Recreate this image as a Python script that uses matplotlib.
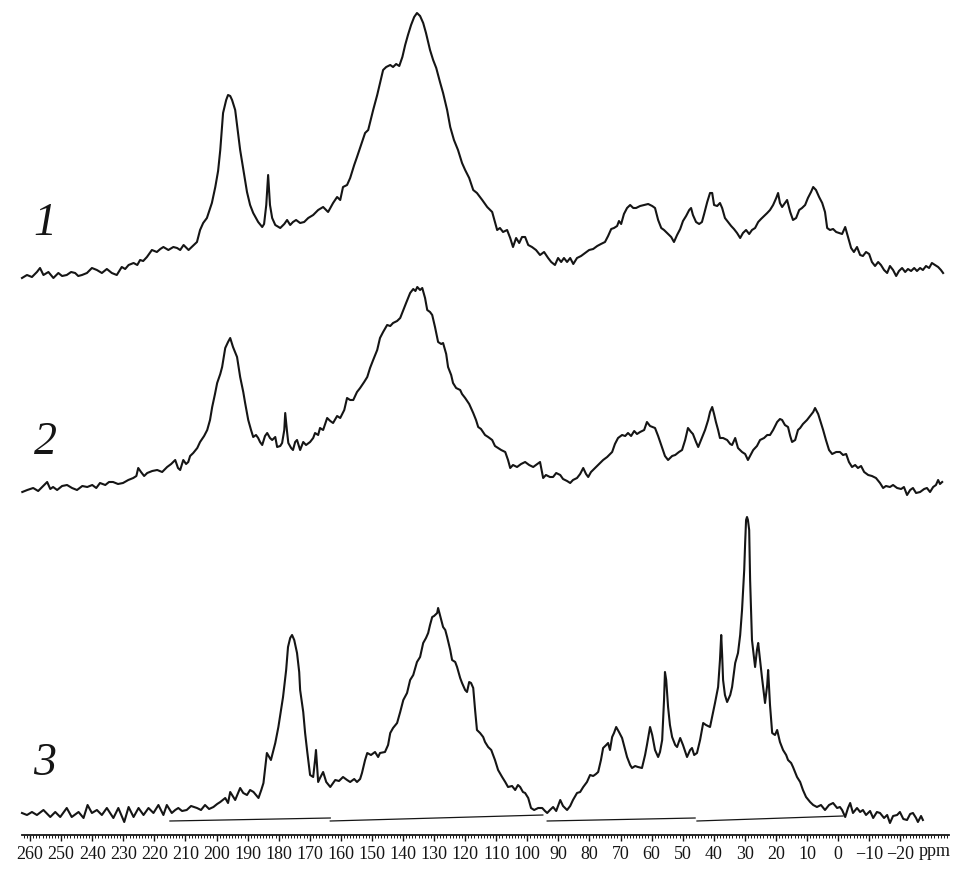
import matplotlib
matplotlib.use("Agg")
import matplotlib.pyplot as plt
from matplotlib.ticker import MultipleLocator

# ---------------- data (ppm, intensity above each trace's own baseline) ----------------
spec1_ppm = [262.6, 261.0, 259.4, 257.8, 256.8, 255.7, 254.1, 252.5, 250.9, 249.7, 248.2, 246.8, 245.5, 244.5,
             243.3, 241.7, 240.1, 238.5, 236.9, 235.3, 233.7, 232.1, 230.5, 229.4, 228.3, 226.7, 225.5, 224.6,
             223.6, 222.4, 220.8, 219.2, 218.1, 217.1, 215.5, 213.9, 212.7, 211.7, 210.6, 209.0, 208.0, 206.3,
             205.3, 204.3, 203.1, 201.5, 200.4, 199.5, 198.8, 197.9, 196.9, 196.3, 195.6, 195.0, 194.0, 193.0,
             192.4, 191.1, 190.2, 189.2, 188.2, 186.6, 185.3, 184.7, 184.0, 183.4, 182.8, 182.1, 181.1, 179.5,
             178.2, 177.3, 176.3, 175.4, 174.4, 173.1, 171.8, 170.5, 168.9, 167.3, 165.7, 164.1, 162.5, 161.2,
             160.2, 159.3, 158.0, 157.0, 155.7, 154.8, 153.5, 152.2, 151.2, 149.6, 148.3, 147.4, 146.4, 145.4,
             144.1, 143.2, 142.2, 141.2, 140.2, 139.3, 138.4, 137.4, 136.4, 135.5, 134.5, 133.5, 132.6, 131.3,
             130.3, 129.3, 128.1, 127.1, 125.8, 124.8, 123.6, 122.3, 121.0, 120.0, 118.7, 117.4, 116.2, 114.5,
             112.9, 111.3, 110.4, 109.7, 108.8, 107.8, 106.5, 105.5, 104.6, 103.6, 102.6, 101.7, 100.7, 99.7,
             98.5, 97.2, 95.9, 94.6, 93.3, 92.3, 91.1, 90.1, 89.1, 88.2, 87.2, 86.2, 85.2, 84.0, 82.7, 81.4,
             80.1, 78.8, 77.5, 76.3, 75.0, 74.0, 73.0, 72.1, 71.1, 70.5, 69.8, 68.9, 67.9, 66.9, 65.9, 65.0,
             63.7, 62.4, 61.1, 59.8, 58.9, 57.9, 56.9, 56.0, 54.7, 53.7, 52.8, 51.8, 50.8, 49.9, 48.9, 47.9,
             47.3, 46.7, 45.7, 44.7, 43.8, 43.1, 42.1, 41.2, 40.5, 39.9, 38.9, 38.0, 37.3, 36.4, 35.4, 34.4,
             33.5, 32.5, 31.5, 30.6, 29.6, 28.6, 27.7, 26.7, 25.7, 24.8, 23.8, 22.8, 21.9, 20.9, 19.9, 19.3,
             18.7, 18.0, 17.1, 16.4, 15.4, 14.5, 13.5, 12.5, 11.6, 10.6, 9.7, 8.7, 8.0, 7.1, 6.1, 5.1, 4.2,
             3.5, 2.6, 1.6, 0.6, -0.3, -1.3, -2.3, -3.2, -4.2, -5.1, -6.1, -7.1, -8.0, -9.0, -10.0, -10.9,
             -11.9, -12.9, -13.8, -14.8, -15.8, -16.7, -17.7, -18.7, -19.6, -20.6, -21.6, -22.5, -23.5, -24.5,
             -25.4, -26.4, -27.3, -28.3, -29.3, -30.2, -31.2, -32.2, -33.1, -33.8]
spec1_int = [-2, 1, -1, 4, 8, 1, 4, -2, 3, 0, 1, 4, 3, 0,
             1, 3, 8, 6, 3, 7, 3, 1, 9, 7, 11, 13, 11, 16,
             15, 19, 26, 24, 27, 29, 26, 29, 28, 26, 31, 26, 29, 34,
             46, 53, 58, 73, 89, 105, 126, 163, 176, 181, 180, 176, 166, 141,
             126, 101, 84, 71, 63, 54, 49, 52, 71, 101, 71, 58, 51, 48,
             52, 56, 51, 54, 56, 53, 54, 58, 61, 66, 69, 64, 73, 79,
             76, 89, 91, 98, 111, 119, 131, 143, 146, 166, 181, 193, 206, 209,
             211, 209, 212, 210, 219, 231, 241, 251, 259, 263, 260, 253, 243, 226,
             216, 208, 194, 183, 166, 149, 136, 126, 113, 106, 98, 86, 83, 76,
             69, 64, 54, 46, 48, 44, 46, 38, 29, 38, 33, 39, 39, 31,
             29, 26, 21, 24, 18, 14, 11, 18, 14, 18, 14, 18, 12, 18, 20, 23,
             26, 27, 30, 32, 34, 40, 47, 48, 50, 55, 52, 62, 68, 71, 68, 68,
             70, 71, 72, 70, 68, 56, 48, 46, 42, 39, 34, 41, 47, 55, 60, 66,
             68, 61, 54, 52, 54, 62, 74, 83, 83, 71, 70, 73, 68, 58, 54, 50,
             47, 43, 38, 43, 46, 42, 46, 48, 54, 57, 60, 63, 66, 71, 78, 83,
             73, 69, 73, 76, 64, 56, 58, 66, 68, 71, 78, 84, 89, 86, 79, 73, 64,
             48, 46, 47, 44, 43, 42, 49, 39, 28, 24, 29, 21, 20, 24, 22, 14,
             10, 14, 11, 6, 3, 10, 6, 0, 5, 8, 4, 7, 5, 8,
             5, 8, 6, 10, 8, 13, 11, 9, 6, 3]

spec2_ppm = [262.5, 260.9, 259.0, 257.4, 255.8, 254.5, 253.5, 252.6, 251.3, 249.7, 248.1, 246.5, 244.9, 243.2,
             241.6, 240.0, 238.7, 237.5, 235.8, 234.6, 233.3, 231.7, 230.1, 228.4, 226.8, 225.8, 225.2, 224.3,
             223.3, 222.3, 220.7, 219.1, 217.5, 215.9, 214.6, 213.3, 212.4, 211.7, 210.7, 209.8, 209.1, 208.5,
             207.5, 206.2, 205.3, 204.0, 203.0, 202.1, 201.4, 200.5, 199.8, 198.8, 198.2, 197.2, 196.3, 195.6,
             194.7, 193.4, 192.4, 191.4, 190.8, 189.8, 188.9, 188.2, 187.3, 186.6, 186.0, 185.3, 184.4, 183.7,
             182.8, 182.1, 181.1, 180.5, 179.5, 178.9, 178.2, 177.9, 177.3, 176.9, 176.0, 175.4, 174.7, 174.1,
             173.1, 172.1, 171.2, 169.9, 168.9, 168.3, 167.3, 166.7, 165.7, 164.4, 163.4, 162.5, 161.2, 160.2,
             158.9, 158.0, 157.0, 156.0, 154.8, 153.8, 152.5, 151.5, 150.6, 149.6, 148.3, 147.4, 146.4, 145.1,
             144.1, 143.2, 141.9, 140.9, 139.9, 139.0, 137.7, 136.7, 136.0, 135.4, 134.5, 133.8, 132.9, 132.2,
             131.3, 130.6, 129.7, 128.7, 127.7, 127.1, 126.1, 125.5, 124.5, 123.9, 122.9, 121.6, 121.0, 120.0,
             118.7, 117.4, 116.5, 115.8, 114.9, 113.6, 112.6, 111.3, 110.4, 109.4, 108.4, 107.1, 106.2, 105.5,
             104.6, 103.3, 102.0, 100.7, 99.4, 98.1, 96.8, 95.9, 94.9, 94.0, 92.7, 91.7, 90.7, 89.4, 88.5,
             87.2, 86.2, 85.3, 84.0, 83.0, 82.0, 81.1, 80.4, 79.5, 78.2, 76.9, 75.6, 74.3, 72.7, 71.8, 70.8,
             69.5, 68.5, 67.6, 66.6, 65.6, 64.7, 63.7, 62.4, 61.5, 60.5, 58.9, 57.9, 56.6, 55.7, 54.7, 53.4,
             52.4, 51.2, 50.2, 49.2, 48.3, 47.3, 46.7, 45.7, 45.0, 44.1, 42.8, 41.8, 41.2, 40.5, 39.9, 39.3,
             38.6, 38.0, 37.0, 35.7, 34.7, 34.1, 33.1, 32.2, 30.9, 29.9, 29.0, 28.0, 27.3, 26.1, 25.1, 23.8,
             22.8, 21.9, 20.9, 19.6, 18.7, 18.0, 17.1, 16.1, 15.4, 14.8, 13.8, 12.9, 12.2, 11.3, 10.0, 9.0,
             8.0, 7.4, 6.4, 5.8, 4.8, 3.9, 2.9, 1.9, 0.6, -0.6, -1.6, -2.6, -3.5, -4.5, -5.5, -6.4, -7.4,
             -8.4, -9.7, -10.9, -12.2, -13.5, -14.5, -15.4, -16.7, -17.7, -19.0, -20.3, -21.2, -22.2, -23.2,
             -24.1, -25.1, -26.4, -27.7, -28.6, -29.6, -30.6, -31.5, -32.2, -32.8, -33.5]
spec2_int = [0, 2, 4, 1, 6, 10, 3, 5, 2, 6, 7, 4, 2, 6,
             5, 7, 4, 9, 7, 10, 10, 8, 9, 12, 14, 16, 24, 20,
             16, 19, 21, 22, 20, 25, 28, 32, 24, 22, 32, 28, 30, 36,
             39, 44, 50, 56, 62, 72, 85, 98, 109, 118, 125, 144, 150, 154,
             145, 135, 115, 100, 89, 72, 62, 55, 57, 54, 50, 47, 56, 59,
             54, 52, 55, 45, 46, 49, 62, 79, 60, 49, 44, 42, 50, 52,
             42, 50, 47, 50, 54, 59, 57, 64, 62, 74, 71, 69, 76, 74,
             82, 94, 92, 92, 100, 104, 110, 115, 124, 132, 142, 154, 160, 167,
             166, 169, 171, 174, 182, 189, 199, 203, 201, 205, 202, 204, 194, 182,
             180, 177, 165, 150, 148, 149, 138, 125, 117, 109, 104, 102, 98, 94,
             88, 79, 72, 65, 63, 57, 55, 52, 46, 44, 42, 40, 32, 24,
             27, 25, 28, 30, 27, 25, 28, 30, 14, 17, 15, 15, 19, 17, 13,
             11, 9, 12, 14, 18, 24, 18, 15, 20, 24, 28, 32, 35, 40, 48, 54,
             57, 56, 59, 56, 61, 58, 60, 62, 70, 66, 64, 56, 44, 36, 32, 36,
             37, 40, 42, 52, 64, 60, 58, 50, 45, 52, 62, 72, 80, 85, 78, 70,
             62, 54, 54, 52, 48, 47, 54, 44, 40, 38, 32, 38, 42, 46, 52, 54,
             57, 57, 62, 70, 73, 72, 67, 65, 56, 50, 52, 62, 64, 68, 72, 76,
             80, 84, 78, 72, 62, 52, 42, 38, 40, 40, 37, 38, 30, 25, 27, 24, 26,
             20, 17, 16, 14, 9, 4, 6, 5, 7, 4, 3, 5, -3, 2,
             4, -1, 0, 3, 4, 0, 5, 7, 12, 8, 10]

spec3_ppm = [262.6, 261.0, 259.4, 257.8, 255.7, 253.5, 251.9, 250.3, 248.2, 246.6, 244.4, 242.8, 241.5, 240.1,
             238.5, 236.9, 235.3, 233.2, 231.6, 229.7, 228.3, 226.7, 225.1, 223.5, 221.9, 220.3, 218.7, 217.1,
             216.0, 214.4, 213.3, 212.3, 211.1, 209.6, 208.2, 206.3, 205.0, 203.7, 202.4, 201.0, 199.8, 198.8,
             197.2, 196.3, 195.6, 194.0, 192.4, 191.4, 190.2, 189.2, 188.1, 186.5, 185.6, 184.9, 183.8, 182.5,
             181.1, 180.1, 178.6, 177.6, 177.0, 176.3, 175.7, 175.0, 174.1, 173.4, 173.1, 172.1, 171.5, 170.8,
             169.9, 168.9, 168.3, 168.0, 167.6, 167.3, 166.7, 165.7, 164.7, 163.4, 162.5, 161.8, 160.6, 159.3,
             158.0, 157.0, 155.7, 154.8, 153.8, 153.2, 152.2, 151.5, 150.3, 149.0, 148.0, 147.4, 145.8, 144.8,
             144.1, 143.2, 141.9, 140.9, 139.9, 138.7, 137.7, 136.7, 135.5, 134.5, 133.5, 132.6, 131.9, 131.3,
             130.6, 130.0, 129.0, 128.7, 128.1, 127.1, 126.4, 125.8, 124.8, 124.2, 123.2, 122.6, 121.6, 121.0,
             120.0, 119.4, 118.7, 118.1, 117.4, 116.8, 116.2, 115.2, 114.2, 113.6, 112.6, 111.6, 110.4, 109.4,
             108.1, 107.1, 106.2, 104.9, 103.9, 103.0, 102.3, 101.4, 100.7, 99.7, 98.8, 97.8, 96.5, 95.2,
             94.3, 93.6, 92.7, 91.7, 90.7, 89.4, 88.5, 87.2, 86.2, 85.3, 84.0, 83.0, 82.0, 80.8, 79.8, 78.8,
             77.9, 77.2, 76.3, 75.6, 74.6, 74.0, 73.4, 72.7, 72.1, 71.4, 70.5, 69.5, 68.5, 67.9, 66.9, 66.3,
             65.3, 64.4, 63.1, 62.1, 61.5, 60.5, 59.8, 58.9, 57.9, 57.3, 56.6, 56.0, 55.7, 55.3, 54.7, 54.1,
             53.4, 52.4, 51.8, 50.8, 49.9, 48.6, 47.6, 47.0, 46.3, 45.4, 44.4, 43.4, 42.5, 41.2, 40.2, 39.6,
             38.6, 38.0, 37.6, 37.3, 37.0, 36.4, 35.7, 34.7, 34.1, 33.1, 32.2, 31.5, 30.9, 30.2, 29.9, 29.6,
             29.3, 29.0, 28.6, 28.3, 27.7, 26.7, 26.1, 25.7, 25.1, 24.5, 23.8, 23.5, 22.8, 22.5, 21.9, 21.2,
             20.3, 19.6, 18.7, 17.7, 16.7, 16.1, 15.1, 14.5, 13.2, 12.2, 11.3, 10.3, 9.0, 8.0, 6.8, 5.5, 4.2,
             2.9, 1.6, 0.3, -0.6, -1.3, -2.3, -3.2, -3.9, -4.8, -6.1, -7.1, -8.0, -9.0, -10.3, -11.3, -12.5,
             -13.5, -14.8, -15.8, -16.7, -17.7, -19.0, -19.9, -21.0, -22.2, -23.2, -24.1, -25.1, -25.7, -26.7,
             -27.3]
spec3_int = [2, 0, 3, 0, 5, -2, 3, -2, 7, -2, 3, -3, 10, 2,
             5, 0, 7, -3, 7, -7, 8, -2, 7, 0, 7, 2, 10, 0,
             10, 2, 5, 7, 4, 5, 9, 7, 5, 10, 6, 8, 11, 13,
             17, 12, 23, 15, 27, 22, 20, 25, 23, 17, 25, 32, 62, 55,
             72, 88, 118, 145, 168, 177, 180, 175, 162, 143, 125, 103, 82, 63,
             40, 38, 55, 65, 47, 33, 37, 43, 33, 28, 32, 35, 34, 38,
             35, 33, 36, 33, 36, 42, 55, 62, 60, 63, 58, 62, 63, 70,
             82, 87, 92, 103, 115, 122, 135, 140, 153, 158, 172, 177, 182, 190,
             198, 199, 202, 207, 200, 188, 185, 178, 165, 155, 153, 148, 137, 132,
             125, 123, 133, 132, 127, 105, 85, 82, 78, 73, 68, 65, 55, 45,
             38, 33, 28, 29, 25, 30, 28, 23, 22, 17, 7, 5, 7, 7,
             4, 2, 5, 8, 4, 15, 9, 5, 9, 15, 22, 23, 28, 33, 40, 39,
             41, 43, 55, 67, 70, 72, 65, 78, 82, 88, 83, 77, 65, 58, 50, 47,
             49, 48, 47, 60, 70, 88, 80, 65, 58, 63, 75, 115, 143, 135, 108, 90,
             78, 70, 68, 77, 70, 58, 65, 67, 60, 62, 75, 92, 90, 88, 103, 112,
             128, 155, 180, 160, 135, 120, 113, 120, 128, 152, 162, 180, 205, 245, 272, 295,
             298, 295, 285, 235, 175, 148, 165, 172, 155, 138, 120, 112, 130, 145, 110, 82,
             80, 85, 73, 65, 60, 55, 52, 48, 38, 33, 25, 18, 13, 10, 8, 10, 5,
             10, 12, 7, 8, 5, -2, 7, 12, 2, 7, 3, 5, 0, 4, -3, 3,
             2, -3, 0, -8, -1, 0, 3, -4, -5, 1, 2, -3, -7, -1,
             -5]

# integral baseline segments under trace 3 (ppm start, ppm end, level start, level end)
integral_ppm = [(215.0, 163.4), (163.4, 95.0), (93.6, 46.0), (45.4, -1.6)]
integral_int = [(-6, -3), (-6, 0), (-6, -3), (-6, -1)]

tick_values = [260, 250, 240, 230, 220, 210, 200, 190, 180, 170, 160, 150, 140, 130,
               120, 110, 100, 90, 80, 70, 60, 50, 40, 30, 20, 10, 0, -10, -20]
tick_labels = ["260", "250", "240", "230", "220", "210", "200", "190", "180", "170", "160", "150",
               "140", "130", "120", "110", "100", "90", "80", "70", "60", "50", "40", "30", "20",
               "10", "0", "\u221210", "\u221220"]
trace_labels = ["1", "2", "3"]
unit_label = "ppm"

# ---------------- drawing ----------------
plt.rcParams['font.family'] = ['Liberation Serif', 'DejaVu Serif']

W, H = 966, 885
fig = plt.figure(figsize=(W / 100, H / 100), dpi=100)
ax = fig.add_axes([22 / W, 50 / H, 927 / W, 835 / H])

offsets = [559, 343, 20]
ink = "#151515"
for ppm, inten, off in zip([spec1_ppm, spec2_ppm, spec3_ppm],
                           [spec1_int, spec2_int, spec3_int], offsets):
    ax.plot(ppm, [v + off for v in inten], color=ink, lw=1.5, clip_on=False,
            solid_joinstyle="round")

for (p0, p1), (v0, v1) in zip(integral_ppm, integral_int):
    ax.plot([p0, p1], [v0 + offsets[2], v1 + offsets[2]], color=ink, lw=0.9)

label_y = [611, 392, 71]
for lab, ly in zip(trace_labels, label_y):
    ax.text(255.2, ly, lab, fontsize=33, fontstyle="italic", ha="center", va="center", color=ink)

ax.set_xlim(262.6, -35.7)
ax.set_ylim(0, 835)
for s in ["top", "left", "right"]:
    ax.spines[s].set_visible(False)
ax.spines["bottom"].set_linewidth(1.3)
ax.spines["bottom"].set_color(ink)
ax.set_yticks([])
ax.set_xticks(tick_values)
ax.set_xticklabels(tick_labels)
ax.xaxis.set_minor_locator(MultipleLocator(1))
ax.tick_params(axis="x", which="major", length=4.5, width=1.0, direction="out", pad=3.5,
               labelsize=13, colors=ink)
ax.tick_params(axis="x", which="minor", length=2.2, width=0.7, direction="out", colors=ink)

fig.text(935 / W, 1 - 852 / H, unit_label, fontsize=13, ha="center", va="center", color=ink)

fig.savefig("out.png", dpi=100)
